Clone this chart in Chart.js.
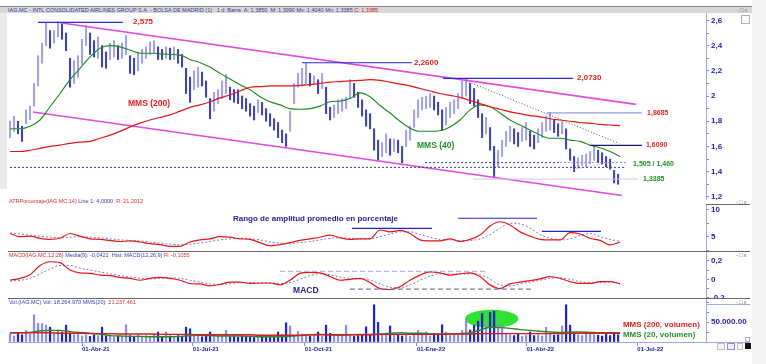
<!DOCTYPE html>
<html><head><meta charset="utf-8">
<script src="https://cdn.jsdelivr.net/npm/chart.js@4.4.1/dist/chart.umd.min.js"></script>
<style>
html,body{margin:0;padding:0;background:#fff;}
#wrap{position:relative;width:766px;height:364px;overflow:hidden;background:#fff;font-family:"Liberation Sans",Arial,sans-serif;}
canvas{position:absolute;left:0;}
.abs{position:absolute;}
.tiny{position:absolute;font-size:5.5px;line-height:6px;white-space:nowrap;}
.ico{position:absolute;font-size:6px;line-height:6px;color:#777;letter-spacing:1px;}
</style></head><body><div id="wrap">
<div class="abs" style="left:752px;top:0;width:14px;height:364px;background:#f4f4f4"></div>
<div class="abs" style="left:0;top:13px;width:7px;height:176px;background:#ebebeb"></div>
<div class="abs" style="left:0;top:6px;width:752px;height:7px;background:#d7d7d7;border-top:1px solid #8a8a8a;box-sizing:border-box"></div>
<div class="tiny" style="left:8px;top:6.5px;color:#3a3a9a">IAG.MC - INTL CONSOLIDATED AIRLINES GROUP S.A. - BOLSA DE MADRID (1) &nbsp; 1 d &nbsp;Barra &nbsp;A: 1,3850 &nbsp;M: 1,3990 Mx: 1,4040 Mn: 1,3385 <span style="color:#d02020">C: 1,3385</span></div>
<div class="ico" style="left:737px;top:7px">-□x</div>
<div class="abs" style="left:741px;top:15px;width:7px;height:7px;border:1px solid #b0b0b0;background:#fafafa"></div>
<canvas id="cPrice" width="766" height="187" style="top:13px"></canvas>
<canvas id="cAtr" width="766" height="47" style="top:204px"></canvas>
<canvas id="cMacd" width="766" height="47" style="top:251px"></canvas>
<canvas id="cVol" width="766" height="66" style="top:298px"></canvas>
<div class="tiny" style="left:9px;top:198px;color:#d03030">ATRPorcentaje(IAG.MC,14) <span style="color:#3a3ab0">Line 1: 4,0000</span> &nbsp;R: 21,2012</div>
<div class="abs" style="left:706px;top:204px;width:44px;height:1px;background:#666"></div>
<div class="ico" style="left:736px;top:199px">-□x</div>
<div class="abs" style="left:8px;top:251px;width:742px;height:1px;background:#666"></div>
<div class="tiny" style="left:9px;top:252px;color:#d03030">MACD(IAG.MC,12,26) <span style="color:#3a3ab0">Media(9): -0,0421 &nbsp;Hist: MACD(12,26,9)</span> R: -0,1055</div>
<div class="ico" style="left:736px;top:252px">-□x</div>
<div class="abs" style="left:8px;top:298px;width:742px;height:1px;background:#666"></div>
<div class="tiny" style="left:9px;top:299px;color:#3a3ab0">Vol.(IAG.MC) Vol: 18.264.970 MMS(20): <span style="color:#d03030">21.237.461</span></div>
<div class="ico" style="left:736px;top:299px">-□x</div>
<div class="abs" style="left:706px;top:304px;width:44px;height:1px;background:#a0a8e8"></div>
<div class="abs" style="left:706px;top:342px;width:44px;height:1px;background:#a0a8e8"></div>
<div class="abs" style="left:745px;top:337px;width:5px;height:5px;border:1px solid #a0a8e8;box-sizing:border-box"></div>
<div class="abs" style="left:717px;top:343px;width:8px;height:7px;border:1px solid #c0c0c0;box-sizing:border-box;background:#f4f4f4"></div>
<div class="abs" style="left:727px;top:343px;width:8px;height:7px;border:1px solid #9090c0;box-sizing:border-box;background:#eef"></div>
<div class="abs" style="left:737px;top:343px;width:6px;height:7px;border:1px solid #c0c0c0;box-sizing:border-box;background:#f4f4f4"></div>
<div class="abs" style="left:745px;top:343px;width:6px;height:6px;background:#111"></div>
</div>
<script>
// ================= DATA =================
const TICK_DAYS   = [0, 91, 183, 275, 365, 456];
const TICK_LABELS = ['01-Abr-21','01-Jul-21','01-Oct-21','01-Ene-22','01-Abr-22','01-Jul-22'];

// sampling of the series (days since 01-Abr-21)
const BAR_START_DAY = -59.1, BAR_STEP_DAYS = 3.285;
const LINE_START_DAY = -59.1, LINE_STEP_DAYS = 8.212;

const PRICE_LOW = [1.67,1.72,1.70,1.64,1.78,1.81,1.92,2.08,2.26,2.40, 2.38,2.42,2.47,2.45,2.36,2.07,2.10,2.15,2.25,2.40,
 2.33,2.31,2.30,2.23,2.22,2.29,2.31,2.29,2.30,2.33, 2.18,2.17,2.20,2.26,2.30,2.33,2.34,2.29,2.29,2.30,
 2.29,2.29,2.26,2.23,2.02,1.95,2.05,2.07,2.08,1.99, 1.82,1.88,1.94,1.98,2.02,1.97,1.95,1.94,1.90,1.88,
 1.84,1.81,1.87,1.85,1.80,1.76,1.73,1.67,1.63,1.60, 1.72,1.94,2.07,2.08,2.10,2.08,2.10,2.02,2.06,1.86,
 1.81,1.83,1.86,1.88,1.90,1.98,1.99,1.91,1.84,1.76, 1.74,1.57,1.49,1.52,1.55,1.53,1.56,1.55,1.47,1.60,
 1.65,1.75,1.83,1.89,1.90,1.91,1.89,1.85,1.73,1.77, 1.83,1.86,1.90,1.98,2.00,1.94,1.92,1.83,1.67,1.70,
 1.57,1.35,1.44,1.52,1.60,1.64,1.62,1.60,1.64,1.65, 1.60,1.58,1.63,1.67,1.72,1.73,1.71,1.68,1.70,1.58,
 1.49,1.40,1.43,1.45,1.44,1.46,1.49,1.47,1.46,1.44, 1.42,1.31,1.30];
const PRICE_HIGH = [1.80,1.84,1.80,1.76,1.89,1.92,2.10,2.32,2.42,2.58, 2.52,2.52,2.59,2.57,2.50,2.30,2.28,2.32,2.45,2.56,
 2.50,2.44,2.47,2.40,2.35,2.42,2.44,2.40,2.42,2.48, 2.32,2.30,2.34,2.37,2.39,2.43,2.44,2.39,2.37,2.39,
 2.38,2.39,2.37,2.33,2.22,2.15,2.20,2.23,2.19,2.12, 1.98,2.03,2.05,2.12,2.17,2.07,2.05,2.05,2.00,1.98,
 1.94,1.92,1.97,1.95,1.90,1.86,1.82,1.79,1.73,1.70, 1.88,2.10,2.18,2.22,2.26,2.18,2.16,2.13,2.18,2.07,
 1.91,1.93,1.97,1.98,1.99,2.13,2.10,2.03,1.97,1.89, 1.86,1.74,1.65,1.63,1.70,1.66,1.66,1.65,1.60,1.73,
 1.76,1.89,1.97,1.99,2.00,2.02,2.00,1.95,1.89,1.91, 1.95,1.97,2.02,2.12,2.14,2.10,2.06,1.97,1.86,1.83,
 1.75,1.60,1.57,1.65,1.72,1.76,1.74,1.71,1.75,1.79, 1.72,1.69,1.74,1.79,1.84,1.87,1.81,1.78,1.80,1.74,
 1.58,1.52,1.51,1.53,1.54,1.56,1.61,1.57,1.55,1.52, 1.50,1.41,1.38];
// volume, thousands
const VOLUME_K = [20,15,22,18,29,20,68,47,46,42, 37,20,30,25,42,22,18,20,15,18,
 14,18,16,37,15,18,13,15,14,43, 16,14,18,12,16,14,20,25,14,25,
 15,12,16,14,37,33,15,18,13,16, 25,14,17,15,29,13,15,12,14,13,
 15,11,14,12,13,15,14,25,18,48, 40,16,26,20,17,14,17,25,14,42,
 22,16,15,18,42,15,14,16,18,38, 17,93,49,20,18,40,16,18,15,17,
 14,20,29,18,25,15,17,20,43,25, 16,20,18,29,57,30,42,52,71,45,
 74,77,45,40,22,18,16,20,14,17, 25,16,18,15,37,20,17,18,40,93,
 42,20,18,16,25,20,18,17,15,19, 16,20,18];

const MMS40 = [1.74,1.74,1.76,1.81,1.915,2.02,2.13,2.22,2.31,2.38, 2.40,2.39,2.365,2.34,2.34,2.335,2.33,2.325,2.29,2.265,
 2.23,2.18,2.135,2.09,2.05,1.995,1.955,1.93,1.90,1.895, 1.90,1.92,1.955,1.96,1.98,2.025,1.995,1.925,1.865,1.80,
 1.745,1.72,1.72,1.725,1.755,1.81,1.89,1.93,1.915,1.865, 1.81,1.77,1.73,1.69,1.665,1.665,1.65,1.64,1.61,1.59, 1.56,1.52];
const MMS200 = [1.56,1.56,1.57,1.585,1.60,1.61,1.625,1.635,1.64,1.665, 1.69,1.72,1.755,1.785,1.81,1.83,1.85,1.88,1.91,1.93,
 1.955,1.985,2.01,2.04,2.07,2.075,2.08,2.08,2.08,2.085, 2.09,2.10,2.11,2.115,2.12,2.125,2.13,2.125,2.11,2.095,
 2.08,2.06,2.04,2.02,2.005,1.99,1.965,1.94,1.915,1.895, 1.875,1.86,1.845,1.835,1.82,1.81,1.80,1.79,1.785,1.775, 1.77,1.765];
const ATR_PCT = [5.6,5.0,5.1,4.7,4.5,4.7,5.6,5.1,4.6,4.5, 4.3,4.1,4.2,4.0,3.7,3.5,3.2,3.2,4.0,4.4,
 4.6,5.0,4.9,4.6,4.5,3.9,3.3,3.5,3.9,4.3, 4.6,4.9,5.3,4.8,4.5,4.6,4.6,6.25,5.9,6.2,
 5.6,4.4,4.2,4.2,4.6,4.1,4.5,5.3,7.0,7.8, 7.2,5.9,5.1,4.5,4.4,4.4,5.75,5.5,4.7,4.3, 3.45,4.0];
const ATR_AVG = [5.7,5.5,5.3,5.1,4.9,4.8,4.9,5.0,4.9,4.8, 4.6,4.4,4.3,4.2,4.0,3.8,3.6,3.5,3.6,3.8,
 4.1,4.4,4.6,4.7,4.6,4.4,4.0,3.8,3.7,3.9, 4.1,4.4,4.7,4.8,4.7,4.6,4.6,5.0,5.5,5.9,
 5.9,5.4,4.9,4.5,4.4,4.3,4.3,4.6,5.4,6.6, 7.5,7.4,6.6,5.4,4.7,4.4,4.6,5.2,5.6,5.0, 4.5,4.1];
const MACD_LINE = [-0.01,0.01,0.05,0.15,0.19,0.18,0.10,0.07,0.065,0.045, 0.04,0.02,0.01,-0.01,0.01,0.02,0.01,-0.01,-0.045,-0.05,
 -0.07,-0.055,-0.03,-0.03,-0.045,-0.04,-0.04,-0.06,-0.01,0.065, 0.075,0.07,0.03,-0.01,0.0,0.01,-0.035,-0.10,-0.11,-0.08,
 -0.01,0.045,0.08,0.07,0.045,0.06,0.07,0.03,-0.06,-0.10, -0.05,-0.03,-0.015,0.005,0.03,0.01,-0.025,-0.045,-0.045,-0.025, -0.025,-0.05];
const MACD_SIGNAL = [-0.02,-0.01,0.01,0.06,0.11,0.15,0.15,0.12,0.10,0.08, 0.06,0.04,0.025,0.01,0.005,0.01,0.015,0.01,-0.01,-0.03,
 -0.05,-0.055,-0.045,-0.035,-0.035,-0.04,-0.04,-0.045,-0.035,0.0, 0.04,0.06,0.05,0.025,0.01,0.005,-0.01,-0.05,-0.085,-0.09,
 -0.06,-0.01,0.035,0.06,0.055,0.055,0.06,0.05,0.0,-0.06, -0.07,-0.05,-0.03,-0.01,0.01,0.015,0.0,-0.025,-0.035,-0.035, -0.03,-0.035];
const VOL_MMS20 = [23,23,24,28,29,29,26,24,22,20, 16,15,14,14,13,13,13,14,16,17, 16,15,15,15,14,13,13,13,14,16,
 18,19,18,17,18,19,19,20,22,23, 22,22,21,20,20,21,23,30,37,36, 34,31,29,27,25,24,25,25,24,23, 23,23];
const VOL_MMS200 = [23,23,23,23,23,22,22,22,21,21, 21,20,20,20,20,19,19,19,19,18, 18,18,18,18,18,17,17,17,17,17,
 18,18,18,18,18,18,18,19,19,19, 19,19,19,19,20,20,20,21,21,21, 21,21,21,21,21,21,22,22,22,22, 22,22];

// drawn trend lines / levels: [[day, value], [day, value]]
const CHANNEL_UPPER = [[-18.1, 2.582], [454.9, 1.934]];
const CHANNEL_LOWER = [[-40.2, 1.873], [443.4, 1.211]];
const LEVEL_2575 = [[-36.1, 2.585], [33.7, 2.585]];
const LEVEL_2260 = [[180.7, 2.264], [271.0, 2.264]];
const LEVEL_2073 = [[296.4, 2.140], [403.2, 2.140]];
const LEVEL_18685 = [[381.8, 1.867], [459.8, 1.867]];
const LEVEL_1609 = [[417.1, 1.609], [459.8, 1.609]];
const LEVEL_1505A = [[281.7, 1.472], [392.5, 1.472]];
const LEVEL_1505B = [[392.5, 1.472], [447.5, 1.472]];
const LEVEL_1460 = [[-59.1, 1.434], [446.7, 1.434]];
const LEVEL_13385 = [[321.0, 1.341], [456.6, 1.341]];
const TREND_DOWN = [[315.3, 2.121], [441.0, 1.624]];
const TREND_MINOR = [[400.7, 1.413], [431.1, 1.468]];
const ATR_MARKS = [[[221.7, 6.57], [287.4, 6.57]], [[308.8, 8.45], [373.6, 8.45]], [[377.7, 6.01], [426.2, 6.01]]];
const MACD_UPPER = [[162.6, 0.086], [333.4, 0.086]];
const MACD_LOWER = [[220.0, -0.105], [369.5, -0.105]];
const VOL_ELLIPSE = {day: 336.4, value: 58, rDays: 21.9, rValue: 22.5};

// ================= CHARTS =================
Chart.defaults.font.family = '"Liberation Sans", Arial, sans-serif';
const X_MIN = -60.77, X_MAX = 512.4;
const barX = i => BAR_START_DAY + i * BAR_STEP_DAYS;
const lineX = i => LINE_START_DAY + i * LINE_STEP_DAYS;
const series = arr => arr.map((v, i) => ({x: lineX(i), y: v}));
const pts = p => p.map(q => ({x: q[0], y: q[1]}));

const DARK = '#4040ba', LIGHT = '#a3a3ec';
const mids = PRICE_LOW.map((l, i) => (l + PRICE_HIGH[i]) / 2);
const barColors = mids.map((m, i) => (i > 0 && m < mids[i - 1]) ? DARK : LIGHT);

function seg(p, color, width, dash, order) {
  return {type: 'line', data: pts(p), borderColor: color, borderWidth: width, borderDash: dash || [],
    pointRadius: 0, tension: 0, fill: false, order: order || 1};
}
function curve(arr, color, width, dash, order) {
  return {type: 'line', data: series(arr), borderColor: color, borderWidth: width, borderDash: dash || [],
    pointRadius: 0, cubicInterpolationMode: 'monotone', fill: false, order: order || 2};
}
function xAxis(display) {
  const ax = {type: 'linear', min: X_MIN, max: X_MAX, offset: false, display: display,
    grid: {display: display, offset: false, drawOnChartArea: false, drawTicks: true, tickLength: 4, color: '#8088d8'},
    border: {display: display, color: '#9ea6e6'},
    afterFit: s => { s.height = display ? 22 : 0; s.paddingLeft = 0; s.paddingRight = 0; },
    afterBuildTicks: s => { s.ticks = TICK_DAYS.map(v => ({value: v})); },
    ticks: {display: display, autoSkip: false, maxRotation: 0, minRotation: 0, align: 'start', padding: 0,
      color: '#2020a0', font: {size: 6, weight: 'bold'}, callback: (v, i) => TICK_LABELS[i]}
  };
  return ax;
}
function yAxis(min, max, step, fmt) {
  return {type: 'linear', position: 'right', min: min, max: max,
    afterFit: s => { s.width = 60; s.paddingTop = 0; s.paddingBottom = 0; },
    border: {display: true, color: '#9ea6e6', width: 1},
    grid: {display: true, drawOnChartArea: false, drawTicks: true, tickLength: 3, color: '#7f88d8'},
    ticks: {stepSize: step, includeBounds: false, autoSkip: false, padding: 2, color: '#1c1cb0',
      font: {size: 8, weight: 'bold'}, callback: fmt}
  };
}
function baseOptions(scales) {
  return {responsive: false, maintainAspectRatio: false, animation: false, devicePixelRatio: 1,
    layout: {padding: {left: 8, right: 0, top: 0, bottom: 0}, autoPadding: false},
    plugins: {legend: {display: false}, tooltip: {enabled: false}},
    scales: scales};
}
function textPlugin(texts, ellipse) {
  return {
    id: 'txt',
    beforeDatasetsDraw(chart) {
      if (!ellipse) return;
      const {ctx, scales: {x, y}} = chart;
      const cx = x.getPixelForValue(ellipse.day), cy = y.getPixelForValue(ellipse.value);
      const rx = x.getPixelForValue(ellipse.day + ellipse.rDays) - cx;
      const ry = cy - y.getPixelForValue(ellipse.value + ellipse.rValue);
      ctx.save(); ctx.fillStyle = '#2fe22f';
      ctx.beginPath(); ctx.ellipse(cx, cy, rx, ry, 0, 0, Math.PI * 2); ctx.fill(); ctx.restore();
    },
    afterDatasetsDraw(chart) {
      const {ctx, scales: {x, y}} = chart;
      ctx.save(); ctx.textBaseline = 'middle'; ctx.textAlign = 'left';
      texts.forEach(t => { ctx.fillStyle = t.c; ctx.font = t.f;
        ctx.fillText(t.t, x.getPixelForValue(t.x), y.getPixelForValue(t.y)); });
      ctx.restore();
    }
  };
}
const fmtTenths = v => { const t = Math.round(v * 10); if (t % 2) return ''; return String(t / 10).replace('.', ','); };

const RED = '#e21c1c', GREEN = '#24902a', NAVY = '#1f1f8f';
const F8 = 'bold 8px "Liberation Sans", Arial', F85 = 'bold 8.5px "Liberation Sans", Arial', F7 = 'bold 7px "Liberation Sans", Arial';

// ---- price panel ----
new Chart(document.getElementById('cPrice'), {
  type: 'bar',
  data: {datasets: [
    {type: 'bar', data: PRICE_LOW.map((l, i) => ({x: barX(i), y: [l, PRICE_HIGH[i]]})),
      backgroundColor: barColors, barThickness: 1.4, grouped: false, order: 10},
    seg(CHANNEL_UPPER, '#e04ae0', 1.6, [], 5),
    seg(CHANNEL_LOWER, '#e04ae0', 1.6, [], 5),
    curve(MMS200, '#e41616', 1.2),
    curve(MMS40, '#1d8a1d', 1.1),
    seg(LEVEL_2575, '#2828d0', 1.2),
    seg(LEVEL_2260, '#2828d0', 1.2),
    seg(LEVEL_2073, '#2828d0', 1.2),
    seg(LEVEL_18685, '#9a9ae6', 1.2),
    seg(LEVEL_1609, '#15156a', 1.2),
    seg(LEVEL_1505A, '#3535a5', 1, [2, 2]),
    seg(LEVEL_1505B, '#9090dc', 1, [2, 2]),
    seg(LEVEL_1460, '#3535a5', 1, [2, 2]),
    seg(LEVEL_13385, '#c8c8f0', 1),
    seg(TREND_DOWN, '#555555', 1, [1, 2]),
    seg(TREND_MINOR, '#b8b870', 1, [1, 2])
  ]},
  options: baseOptions({x: xAxis(false), y: yAxis(1.175, 2.659, 0.1, fmtTenths)}),
  plugins: [textPlugin([
    {x: 41.9, y: 2.587, t: '2,575', c: RED, f: F8},
    {x: 272.6, y: 2.266, t: '2,2600', c: RED, f: F8},
    {x: 406.5, y: 2.142, t: '2,0730', c: RED, f: F8},
    {x: 464.0, y: 1.867, t: '1,8685', c: '#d42a2a', f: F7},
    {x: 463.1, y: 1.609, t: '1,6090', c: '#d42a2a', f: F7},
    {x: 452.5, y: 1.458, t: '1,505 / 1,460', c: GREEN, f: F7},
    {x: 460.7, y: 1.341, t: '1,3385', c: GREEN, f: F7},
    {x: 37.8, y: 1.937, t: 'MMS (200)', c: RED, f: F85},
    {x: 275.1, y: 1.603, t: 'MMS (40)', c: GREEN, f: F85}
  ])]
});

// ---- ATR panel ----
new Chart(document.getElementById('cAtr'), {
  type: 'line',
  data: {datasets: [
    curve(ATR_AVG, '#7a7ad6', 1, [2, 2], 3),
    curve(ATR_PCT, '#e41616', 1.2, [], 2),
    seg(ATR_MARKS[0], '#2222c8', 1.2),
    seg(ATR_MARKS[1], '#2222c8', 1.2),
    seg(ATR_MARKS[2], '#2222c8', 1.2)
  ]},
  options: baseOptions({x: xAxis(false), y: yAxis(2.32, 11.12, 2.5, v => (Math.abs(v - 5) < 1e-6 || Math.abs(v - 10) < 1e-6) ? String(Math.round(v)) : '')}),
  plugins: [textPlugin([{x: 124, y: 8.31, t: 'Rango de amplitud promedio en porcentaje', c: NAVY, f: F8}])]
});

// ---- MACD panel ----
new Chart(document.getElementById('cMacd'), {
  type: 'line',
  data: {datasets: [
    curve(MACD_SIGNAL, '#7a7ad6', 1, [2, 2], 3),
    curve(MACD_LINE, '#e41616', 1.2, [], 2),
    seg(MACD_UPPER, '#b4b4ee', 1.2, [5, 3]),
    seg(MACD_LOWER, '#7a7aaa', 1.2, [5, 3])
  ]},
  options: baseOptions({x: xAxis(false), y: yAxis(-0.202, 0.306, 0.1, fmtTenths)}),
  plugins: [textPlugin([{x: 173.3, y: -0.126, t: 'MACD', c: NAVY, f: F85}])]
});

// ---- volume panel ----
new Chart(document.getElementById('cVol'), {
  type: 'bar',
  data: {datasets: [
    {type: 'bar', data: VOLUME_K.map((v, i) => ({x: barX(i), y: v})),
      backgroundColor: barColors.map(c => c === DARK ? '#2424c4' : '#8e8ee6'), barThickness: 1.6, grouped: false, order: 10},
    curve(VOL_MMS200, '#d41a1a', 1.4),
    curve(VOL_MMS20, '#2a8a2a', 1.4)
  ]},
  options: baseOptions({x: xAxis(true), y: yAxis(0, 110, 25, v => v === 50 ? '50.000.00' : '')}),
  plugins: [textPlugin([
    {x: 444.2, y: 44, t: 'MMS (200, volumen)', c: RED, f: F8},
    {x: 444.2, y: 19, t: 'MMS (20, volumen)', c: GREEN, f: F8}
  ], VOL_ELLIPSE)]
});
</script>
</body></html>
